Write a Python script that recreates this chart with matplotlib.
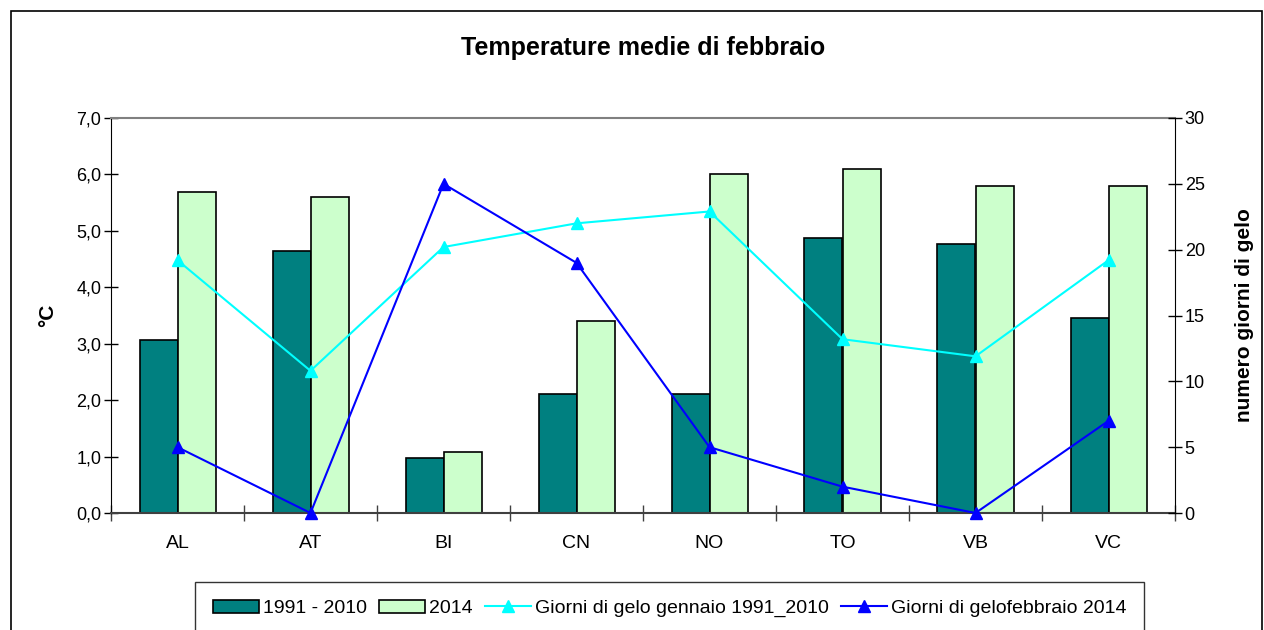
import matplotlib
matplotlib.use("Agg")
import matplotlib.pyplot as plt
from matplotlib.patches import Rectangle
from matplotlib.ticker import FuncFormatter, FixedLocator
import numpy as np

plt.rcParams["font.family"] = ["Liberation Sans", "DejaVu Sans"]

# data
province = ["AL", "AT", "BI", "CN", "NO", "TO", "VB", "VC"]
temp_1991_2010 = [3.06, 4.65, 0.97, 2.11, 2.11, 4.88, 4.77, 3.46]
temp_2014 = [5.69, 5.60, 1.08, 3.41, 6.00, 6.09, 5.80, 5.80]
gelo_gennaio_1991_2010 = [19.2, 10.8, 20.2, 22.0, 22.9, 13.2, 11.9, 19.2]
gelo_febbraio_2014 = [5, 0, 25, 19, 5, 2, 0, 7]

fig = plt.figure(figsize=(12.64, 6.3), dpi=100)
ax = fig.add_axes([111 / 1264, 1 - 513 / 630, (1175 - 111) / 1264, (513 - 118) / 630])

# outer chart frame
fig.patches.append(Rectangle((11 / 1264, -0.05), (1262 - 11) / 1264, 1.05 - 11 / 630,
                             transform=fig.transFigure, fill=False, edgecolor="black",
                             linewidth=1.2, zorder=0))

x = np.arange(len(province))
w = 1 / 3.5
b1 = ax.bar(x - w / 2, temp_1991_2010, w, color="#008080", edgecolor="black", linewidth=1.2,
            label="1991 - 2010", zorder=2)
b2 = ax.bar(x + w / 2, temp_2014, w, color="#CCFFCC", edgecolor="black", linewidth=1.2,
            label="2014", zorder=2)

ax.set_xlim(-0.5, len(province) - 0.5)
ax.set_ylim(0, 7)
ax.set_yticks(np.arange(0, 7.1, 1))
ax.yaxis.set_major_formatter(FuncFormatter(lambda v, p: f"{v:.1f}".replace(".", ",")))
ax.set_xticks(x)
ax.set_xticklabels(province)
ax.xaxis.set_minor_locator(FixedLocator(np.arange(-0.5, len(province), 1)))
ax.tick_params(axis="x", which="major", length=0, pad=16, labelsize=14)
ax.tick_params(axis="x", which="minor", direction="inout", length=12, width=1, color="#404040")
ax.tick_params(axis="y", direction="inout", length=10, width=1, labelsize=13, pad=2)
ax.set_ylabel("°C", fontsize=15, fontweight="bold", labelpad=14)

ax.spines["top"].set_color("#808080")
ax.spines["top"].set_linewidth(1.5)
ax.spines["right"].set_visible(False)
ax.spines["bottom"].set_color("#404040")
ax.spines["bottom"].set_linewidth(1.5)

ax2 = ax.twinx()
l1, = ax2.plot(x, gelo_gennaio_1991_2010, color="#00FFFF", marker="^", markersize=8,
               linewidth=1.5, label="Giorni di gelo gennaio 1991_2010", zorder=3)
l2, = ax2.plot(x, gelo_febbraio_2014, color="#0000FF", marker="^", markersize=8,
               linewidth=1.5, label="Giorni di gelofebbraio 2014", zorder=3, clip_on=False)
ax2.set_ylim(0, 30)
ax2.set_yticks(range(0, 31, 5))
ax2.tick_params(axis="y", direction="inout", length=10, width=1, labelsize=13, pad=2)
ax2.set_ylabel("numero giorni di gelo", fontsize=15, fontweight="bold", labelpad=22)
for s in ["top", "bottom", "left"]:
    ax2.spines[s].set_visible(False)

fig.text(643 / 1264, 1 - 48 / 630, "Temperature medie di febbraio",
         ha="center", va="center", fontsize=18, fontweight="bold")

leg = fig.legend([b1, b2, l1, l2],
                 ["1991 - 2010", "2014", "Giorni di gelo gennaio 1991_2010", "Giorni di gelofebbraio 2014"],
                 loc="upper left", bbox_to_anchor=(195 / 1264, 1 - 582 / 630), ncol=4,
                 fontsize=14, frameon=True, fancybox=False, edgecolor="black",
                 handlelength=2.4, handletextpad=0.2, columnspacing=0.6, borderpad=0.9,
                 borderaxespad=0)
leg.get_frame().set_linewidth(1.0)

fig.savefig("out.png", dpi=100)
